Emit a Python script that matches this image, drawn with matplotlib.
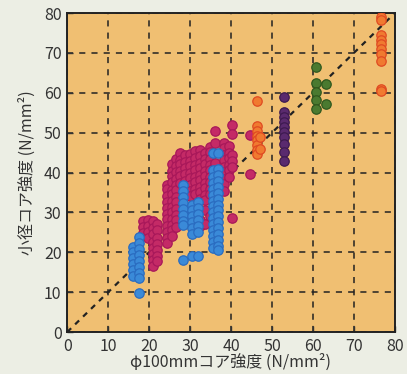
import matplotlib.pyplot as plt

plt.rcParams['font.family'] = ['Noto Sans CJK JP', 'DejaVu Sans']

# --- データ (φ100mm強度ごとの小径コア強度) ---
crimson_x = [18.5, 19.8, 21.0, 22.0, 24.5, 25.5, 26.5, 27.5, 28.8, 30.0,
             31.2, 32.4, 33.6, 34.8, 36.0, 38.2, 39.4, 40.3, 44.6]
crimson_y = [
    [27.8, 26.3, 24.8],
    [28.0, 26.5, 25.0, 23.5],
    [27.8, 26.0, 24.5, 22.5, 21.0, 19.5, 18.0, 16.5],
    [27.0, 25.5, 23.5, 22.0, 20.5, 19.0, 17.8],
    [37.0, 35.8, 34.1, 32.6, 31.2, 29.5, 28.3, 26.6, 25.1, 23.7, 22.4],
    [42.2, 40.3, 39.1, 37.6, 35.7, 34.6, 32.9, 31.4, 30.2, 28.4, 26.8, 25.6, 24.0],
    [43.3, 41.6, 40.2, 38.3, 36.9, 35.6, 33.8, 32.7, 30.9, 29.3, 28.1, 26.4],
    [45.0, 43.2, 42.1, 40.4, 39.2, 37.4],
    [44.3, 42.6, 41.2, 39.6, 37.8, 36.7],
    [44.6, 42.9, 41.7, 39.9, 38.6, 36.9, 35.4, 34.2],
    [45.3, 43.6, 41.8, 40.6, 38.9, 37.6, 35.8, 34.6],
    [45.6, 44.1, 42.4, 41.1, 39.3, 38.1, 36.4, 35.2, 33.4, 28.0, 26.5],
    [44.8, 43.4, 42.2, 40.3, 39.1, 37.3, 36.2, 34.4, 33.1, 30.5, 27.0],
    [46.5, 45.1, 43.3, 42.0, 40.6, 38.8, 37.6, 35.9, 34.6, 29.0],
    [50.5, 47.5, 42.5, 40.0],
    [47.5, 46.1, 44.4, 43.1, 41.4, 40.1, 38.4, 37.1, 35.5],
    [46.6, 44.9, 43.6, 41.9, 40.6, 38.9],
    [52.0, 49.7, 44.5, 43.0, 41.5, 28.5],
    [49.4, 39.7],
]

blue_x = [16.0, 17.6, 28.3, 30.5, 32.0, 35.6, 36.9]
blue_y = [
    [21.3, 20.0, 18.5, 17.0, 15.5, 14.0],
    [23.8, 22.3, 20.8, 19.3, 17.8, 16.3, 14.8, 13.5, 9.8],
    [36.8, 35.3, 33.8, 32.3, 30.8, 29.3, 27.8, 26.8, 18.0],
    [32.0, 30.5, 29.0, 27.5, 26.0, 24.5, 19.0],
    [32.6, 31.0, 29.5, 28.0, 26.5, 25.0, 19.0],
    [45.0, 40.6, 39.0, 37.5, 36.0, 34.5, 33.0, 31.5, 30.0, 28.5, 27.0, 25.5, 24.0, 22.5, 21.0],
    [45.0, 41.0, 39.5, 38.0, 36.5, 35.0, 33.5, 32.0, 30.5, 29.0, 27.5, 26.0, 24.5, 23.0, 21.5, 20.5],
]

orange_x = [46.4, 47.2, 76.6]
orange_y = [
    [57.9, 51.6, 50.4, 49.3, 48.1, 46.8, 45.6, 44.6],
    [49.0, 46.0],
    [79.0, 78.3, 74.4, 73.3, 72.3, 71.1, 69.8, 68.1, 61.0, 60.4],
]

purple_x = [52.9]
purple_y = [[59.0, 55.2, 53.9, 52.7, 51.4, 50.2, 48.9, 47.2, 45.2, 42.8]]

green_x = [60.7, 63.3]
green_y = [[66.6, 62.5, 60.2, 58.1, 56.0], [62.3, 57.1]]

series = [
    (crimson_x, crimson_y, '#c42a66', '#a8185a'),
    (blue_x, blue_y, '#3a8ad8', '#2a6cc0'),
    (orange_x, orange_y, '#f07a30', '#e04a22'),
    (purple_x, purple_y, '#5a2a6e', '#3e1a50'),
    (green_x, green_y, '#4a7a30', '#30581e'),
]

fig = plt.figure(figsize=(4.07, 3.74), dpi=100, facecolor='#eceee4')
ax = fig.add_axes([0.165, 0.112, 0.805, 0.853])
ax.set_facecolor('#f0bf72')

ax.plot([0, 80], [0, 80], color='#222222', linestyle=(0, (2.5, 2.5)), linewidth=1.6, zorder=2)

for xs, ys, fc, ec in series:
    px, py = [], []
    for x, col in zip(xs, ys):
        px += [x] * len(col)
        py += col
    ax.scatter(px, py, s=46, color=fc, edgecolor=ec, linewidth=0.9, zorder=3)

ax.set_xlim(0, 80)
ax.set_ylim(0, 80)
ax.set_xticks(range(0, 81, 10))
ax.set_yticks(range(0, 81, 10))
ax.grid(True, color='#222222', linestyle=(0, (4, 4)), linewidth=1.1, zorder=1)
ax.set_axisbelow(True)
ax.tick_params(direction='in', length=4, width=1, labelsize=11.5, colors='#333333', pad=4)
for s in ax.spines.values():
    s.set_linewidth(1.4)
    s.set_color('#222222')

ax.set_xlabel('φ100mmコア強度 (N/mm²)', fontsize=11.5, color='#333333', labelpad=-1)
ax.set_ylabel('小径コア強度 (N/mm²)', fontsize=11.5, color='#333333', labelpad=6)

fig.savefig('out.png', dpi=100, facecolor=fig.get_facecolor())
